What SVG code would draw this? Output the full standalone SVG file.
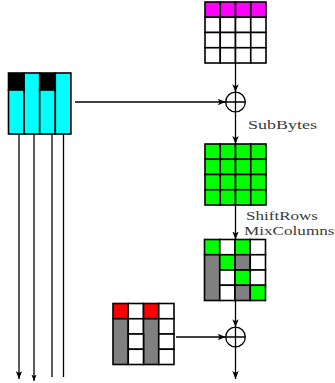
<svg xmlns="http://www.w3.org/2000/svg" width="335" height="383" viewBox="0 0 335 383">
<style>
.c{stroke:#000;stroke-width:1.6}
.w{fill:#fff}.m{fill:#ff00ff}.g{fill:#00ff00}.y{fill:#808080}.r{fill:#ff0000}.cy{fill:#00ffff}.k{fill:#000}
.ln{stroke:#000;stroke-width:1.3;fill:none}
.t{font-family:"Liberation Serif","DejaVu Serif",serif;font-size:13px;fill:#3a3a3a}
</style>
<defs>
<marker id="ah" viewBox="0 0 10 8" refX="10" refY="4" markerWidth="8" markerHeight="6.4" markerUnits="userSpaceOnUse" orient="auto">
<path d="M0,0 L10,4 L0,8 L2.5,4 z" fill="#000"/>
</marker>
<marker id="ah2" viewBox="0 0 10 8" refX="10" refY="4" markerWidth="6.5" markerHeight="5.2" markerUnits="userSpaceOnUse" orient="auto">
<path d="M0,0 L10,4 L0,8 L2.5,4 z" fill="#000"/>
</marker>
</defs>

<g id="key">
<rect class="c k" x="8.5" y="73" width="15.6" height="17"/>
<rect class="c cy" x="8.5" y="90" width="15.6" height="44"/>
<rect class="c cy" x="24.1" y="73" width="15.6" height="61"/>
<rect class="c k" x="39.7" y="73" width="15.6" height="17"/>
<rect class="c cy" x="39.7" y="90" width="15.6" height="44"/>
<rect class="c cy" x="55.3" y="73" width="15.6" height="61"/>
</g>

<g id="state0">
<rect class="c m" x="205" y="2" width="15.25" height="15.25"/>
<rect class="c m" x="220.25" y="2" width="15.25" height="15.25"/>
<rect class="c m" x="235.5" y="2" width="15.25" height="15.25"/>
<rect class="c m" x="250.75" y="2" width="15.25" height="15.25"/>
<rect class="c w" x="205" y="17.25" width="15.25" height="15.25"/>
<rect class="c w" x="220.25" y="17.25" width="15.25" height="15.25"/>
<rect class="c w" x="235.5" y="17.25" width="15.25" height="15.25"/>
<rect class="c w" x="250.75" y="17.25" width="15.25" height="15.25"/>
<rect class="c w" x="205" y="32.5" width="15.25" height="15.25"/>
<rect class="c w" x="220.25" y="32.5" width="15.25" height="15.25"/>
<rect class="c w" x="235.5" y="32.5" width="15.25" height="15.25"/>
<rect class="c w" x="250.75" y="32.5" width="15.25" height="15.25"/>
<rect class="c w" x="205" y="47.75" width="15.25" height="15.25"/>
<rect class="c w" x="220.25" y="47.75" width="15.25" height="15.25"/>
<rect class="c w" x="235.5" y="47.75" width="15.25" height="15.25"/>
<rect class="c w" x="250.75" y="47.75" width="15.25" height="15.25"/>
</g>

<g id="xor1">
<circle cx="235.5" cy="102" r="9.8" fill="#fff" class="ln"/>
<path class="ln" d="M225.7,102 H245.3 M235.5,92.2 V111.8"/>
</g>

<g id="state1">
<rect class="c g" x="205" y="144" width="15.25" height="15.25"/>
<rect class="c g" x="220.25" y="144" width="15.25" height="15.25"/>
<rect class="c g" x="235.5" y="144" width="15.25" height="15.25"/>
<rect class="c g" x="250.75" y="144" width="15.25" height="15.25"/>
<rect class="c g" x="205" y="159.25" width="15.25" height="15.25"/>
<rect class="c g" x="220.25" y="159.25" width="15.25" height="15.25"/>
<rect class="c g" x="235.5" y="159.25" width="15.25" height="15.25"/>
<rect class="c g" x="250.75" y="159.25" width="15.25" height="15.25"/>
<rect class="c g" x="205" y="174.5" width="15.25" height="15.25"/>
<rect class="c g" x="220.25" y="174.5" width="15.25" height="15.25"/>
<rect class="c g" x="235.5" y="174.5" width="15.25" height="15.25"/>
<rect class="c g" x="250.75" y="174.5" width="15.25" height="15.25"/>
<rect class="c g" x="205" y="189.75" width="15.25" height="15.25"/>
<rect class="c g" x="220.25" y="189.75" width="15.25" height="15.25"/>
<rect class="c g" x="235.5" y="189.75" width="15.25" height="15.25"/>
<rect class="c g" x="250.75" y="189.75" width="15.25" height="15.25"/>
</g>

<g id="state2">
<rect class="c g" x="204.5" y="239.5" width="15.25" height="15.25"/>
<rect class="c w" x="219.75" y="239.5" width="15.25" height="15.25"/>
<rect class="c g" x="235" y="239.5" width="15.25" height="15.25"/>
<rect class="c w" x="250.25" y="239.5" width="15.25" height="15.25"/>
<rect class="c y" x="204.5" y="254.75" width="15.25" height="45.75"/>
<rect class="c g" x="219.75" y="254.75" width="15.25" height="15.25"/>
<rect class="c y" x="235" y="254.75" width="15.25" height="15.25"/>
<rect class="c w" x="250.25" y="254.75" width="15.25" height="15.25"/>
<rect class="c w" x="219.75" y="270" width="15.25" height="15.25"/>
<rect class="c g" x="235" y="270" width="15.25" height="15.25"/>
<rect class="c w" x="250.25" y="270" width="15.25" height="15.25"/>
<rect class="c w" x="219.75" y="285.25" width="15.25" height="15.25"/>
<rect class="c y" x="235" y="285.25" width="15.25" height="15.25"/>
<rect class="c g" x="250.25" y="285.25" width="15.25" height="15.25"/>
</g>

<g id="roundkey">
<rect class="c r" x="113" y="303.5" width="15.25" height="15.25"/>
<rect class="c w" x="128.25" y="303.5" width="15.25" height="15.25"/>
<rect class="c r" x="143.5" y="303.5" width="15.25" height="15.25"/>
<rect class="c w" x="158.75" y="303.5" width="15.25" height="15.25"/>
<rect class="c y" x="113" y="318.75" width="15.25" height="45.75"/>
<rect class="c w" x="128.25" y="318.75" width="15.25" height="15.25"/>
<rect class="c y" x="143.5" y="318.75" width="15.25" height="45.75"/>
<rect class="c w" x="158.75" y="318.75" width="15.25" height="15.25"/>
<rect class="c w" x="128.25" y="334" width="15.25" height="15.25"/>
<rect class="c w" x="158.75" y="334" width="15.25" height="15.25"/>
<rect class="c w" x="128.25" y="349.25" width="15.25" height="15.25"/>
<rect class="c w" x="158.75" y="349.25" width="15.25" height="15.25"/>
</g>

<g id="xor2">
<circle cx="235.5" cy="337" r="9.8" fill="#fff" class="ln"/>
<path class="ln" d="M225.7,337 H245.3 M235.5,327.2 V346.8"/>
</g>

<g id="labels">
<text class="t" x="248" y="129" textLength="69" lengthAdjust="spacingAndGlyphs">SubBytes</text>
<text class="t" x="246" y="220" textLength="72" lengthAdjust="spacingAndGlyphs">ShiftRows</text>
<text class="t" x="244" y="235" textLength="90.5" lengthAdjust="spacingAndGlyphs">MixColumns</text>
</g>

<g id="connectors">
<path class="ln" d="M235.5,63 V92.2" marker-end="url(#ah)"/>
<path class="ln" d="M75,102 H225.7" marker-end="url(#ah)"/>
<path class="ln" d="M235.5,111.8 V144" marker-end="url(#ah)"/>
<path class="ln" d="M235.5,205 V239.5" marker-end="url(#ah)"/>
<path class="ln" d="M235.5,300.5 V327.2" marker-end="url(#ah)"/>
<path class="ln" d="M176,337 H225.7" marker-end="url(#ah)"/>
<path class="ln" d="M235.5,346.8 V379" marker-end="url(#ah)"/>
<path class="ln" d="M19,134 V379" marker-end="url(#ah)"/>
<path class="ln" d="M34,134 V381" marker-end="url(#ah2)"/>
<path class="ln" d="M52,134 V377"/>
<path class="ln" d="M63.5,134 V377"/>
</g>
</svg>
